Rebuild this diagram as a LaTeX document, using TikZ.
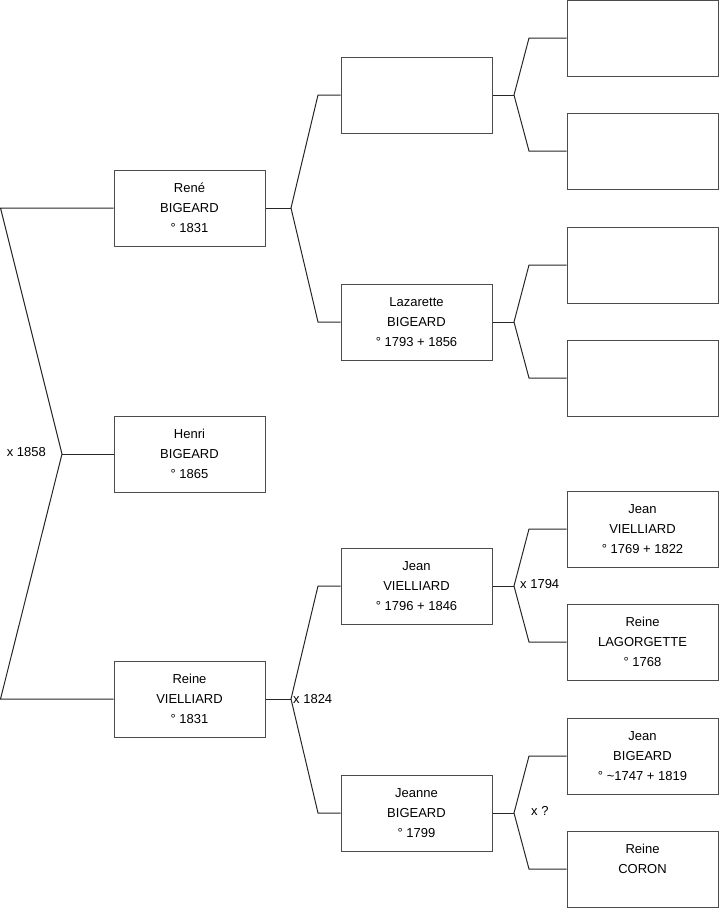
\documentclass[tikz,border=0pt]{standalone}
\usepackage{fontspec}
\setmainfont{Liberation Sans}
\begin{document}
\begin{tikzpicture}[x=1pt,y=-1pt,
  person/.style={draw=black!70, line width=1pt, minimum width=151pt, minimum height=76pt, inner sep=0pt, align=center, font=\fontsize{13}{20}\selectfont, fill=white},
  link/.style={draw=black!85, line width=1pt},
  lbl/.style={inner sep=0pt, font=\fontsize{13}{16}\selectfont}]
\useasboundingbox (0,0) rectangle (719,908);
% generation 1
\node[person] (rene) at (189.5,208) {René\\BIGEARD\\° 1831};
\node[person] (henri) at (189.5,454) {Henri\\BIGEARD\\° 1865};
\node[person] (reine) at (189.5,699) {Reine\\VIELLIARD\\° 1831};
% generation 2
\node[person] (p1) at (416.5,95) {};
\node[person] (laz) at (416.5,322) {Lazarette\\BIGEARD\\° 1793 + 1856};
\node[person] (jeanv) at (416.5,586) {Jean\\VIELLIARD\\° 1796 + 1846};
\node[person] (jeanne) at (416.5,813) {Jeanne\\BIGEARD\\° 1799};
% generation 3
\node[person] (g1) at (642.5,38) {};
\node[person] (g2) at (642.5,151) {};
\node[person] (g3) at (642.5,265) {};
\node[person] (g4) at (642.5,378) {};
\node[person] (jv) at (642.5,529) {Jean\\VIELLIARD\\° 1769 + 1822};
\node[person] (rl) at (642.5,642) {Reine\\LAGORGETTE\\° 1768};
\node[person] (jb) at (642.5,756) {Jean\\BIGEARD\\° \textasciitilde1747 + 1819};
\node[person] (rc) at (642.5,869) {Reine\\CORON\\~};
% junction coordinates
\coordinate (a0) at (0.5,208);
\coordinate (b0) at (0.5,699);
\coordinate (j0) at (62,454);
\coordinate (jr) at (291,208);
\coordinate (jr1) at (318,95);
\coordinate (jr2) at (318,322);
\coordinate (jq) at (291,699);
\coordinate (jq1) at (318,586);
\coordinate (jq2) at (318,813);
\coordinate (jp) at (514,95);
\coordinate (jp1) at (529,38);
\coordinate (jp2) at (529,151);
\coordinate (jl) at (514,322);
\coordinate (jl1) at (529,265);
\coordinate (jl2) at (529,378);
\coordinate (jj) at (514,586);
\coordinate (jj1) at (529,529);
\coordinate (jj2) at (529,642);
\coordinate (jn) at (514,813);
\coordinate (jn1) at (529,756);
\coordinate (jn2) at (529,869);
% connectors
\draw[link] (rene.west) -- (a0) -- (j0) -- (b0) -- (reine.west);
\draw[link] (j0) -- (henri.west);
\draw[link] (rene.east) -- (jr);
\draw[link] (p1.west) -- (jr1) -- (jr) -- (jr2) -- (laz.west);
\draw[link] (reine.east) -- (jq);
\draw[link] (jeanv.west) -- (jq1) -- (jq) -- (jq2) -- (jeanne.west);
\draw[link] (p1.east) -- (jp);
\draw[link] (g1.west) -- (jp1) -- (jp) -- (jp2) -- (g2.west);
\draw[link] (laz.east) -- (jl);
\draw[link] (g3.west) -- (jl1) -- (jl) -- (jl2) -- (g4.west);
\draw[link] (jeanv.east) -- (jj);
\draw[link] (jv.west) -- (jj1) -- (jj) -- (jj2) -- (rl.west);
\draw[link] (jeanne.east) -- (jn);
\draw[link] (jb.west) -- (jn1) -- (jn) -- (jn2) -- (rc.west);
% marriage labels
\node[lbl, anchor=east] (m1) at (46,452) {x 1858};
\node[lbl, anchor=west] (m2) at (293,699) {x 1824};
\node[lbl, anchor=west] (m3) at (520,584) {x 1794};
\node[lbl, anchor=west] (m4) at (531,811) {x ?};
\end{tikzpicture}
\end{document}
